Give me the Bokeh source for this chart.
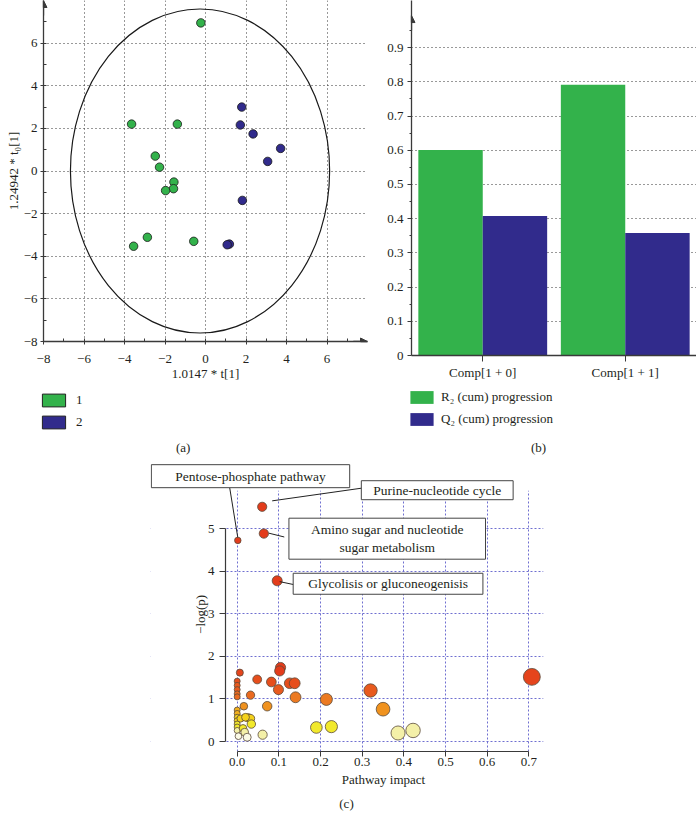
import numpy as np
from bokeh.plotting import figure
from bokeh.models import (Range1d, FixedTicker, Legend, LegendItem, Label, Arrow,
                          NormalHead, ColumnDataSource, LinearColorMapper, BoxAnnotation)
from bokeh.layouts import row, column
from bokeh.transform import dodge, transform
from bokeh.embed import file_html
from bokeh.resources import INLINE

FONT = "Liberation Serif"
TXT = "#231f20"
AX = "#3a3a3a"

# ---------------- (a) score plot data ----------------
group_names = ["1", "2"]
g1_t = [-0.23, -3.65, -1.39, -2.48, -2.27, -1.56, -1.58, -1.97, -2.87, -3.55, -0.58]
g1_to = [6.95, 2.20, 2.20, 0.70, 0.18, -0.52, -0.83, -0.92, -3.11, -3.53, -3.30]
g2_t = [1.79, 1.72, 2.35, 3.71, 3.07, 1.82, 1.18, 1.07]
g2_to = [3.00, 2.16, 1.74, 1.06, 0.45, -1.38, -3.43, -3.46]
ellipse_center = [-0.27, 0.0]
ellipse_axes = [12.8, 15.2]
a_xticks = [-8, -6, -4, -2, 0, 2, 4, 6]
a_yticks = [-8, -6, -4, -2, 0, 2, 4, 6]
a_minor = [-7, -5, -3, -1, 1, 3, 5, 7]

# ---------------- (b) model progression data ----------------
comps = ["Comp[1 + 0]", "Comp[1 + 1]"]
r2_cum = [0.601, 0.792]
q2_cum = [0.408, 0.358]
b_yticks = [0, 0.1, 0.2, 0.3, 0.4, 0.5, 0.6, 0.7, 0.8, 0.9]
b_ylabels = ["0", "0.1", "0.2", "0.3", "0.4", "0.5", "0.6", "0.7", "0.8", "0.9"]
b_series = ["R₂ (cum) progression", "Q₂ (cum) progression"]

# ---------------- (c) pathway impact data ----------------
impact = [0.0015, 0.060, 0.064, 0.096,
          0.0064, 0.0, 0.0, 0.0, 0.0, 0.0,
          0.048, 0.082, 0.104, 0.102, 0.099, 0.126, 0.138, 0.140,
          0.214, 0.320, 0.350, 0.032, 0.016, 0.072,
          0.190, 0.226, 0.386, 0.422, 0.707, 0.061,
          0.0, 0.0, 0.0, 0.0, 0.0, 0.0, 0.0, 0.003,
          0.026, 0.032, 0.034, 0.014, 0.018, 0.024, 0.008, 0.020]
neglogp = [4.73, 5.52, 4.89, 3.78,
           1.62, 1.42, 1.32, 1.22, 1.12, 1.05,
           1.46, 1.40, 1.74, 1.66, 1.22, 1.37, 1.37, 1.04,
           0.99, 1.20, 0.76, 1.09, 0.83, 0.83,
           0.33, 0.35, 0.20, 0.26, 1.52, 0.16,
           0.74, 0.66, 0.57, 0.49, 0.41, 0.34, 0.26, 0.125,
           0.56, 0.54, 0.41, 0.31, 0.22, 0.10, 0.54, 0.57]
c_xticks = [0.0, 0.1, 0.2, 0.3, 0.4, 0.5, 0.6, 0.7]
c_xlabels = ["0.0", "0.1", "0.2", "0.3", "0.4", "0.5", "0.6", "0.7"]
c_yticks = [0, 1, 2, 3, 4, 5]
c_xtitle = "Pathway impact"
c_ytitle = "−log(p)"
pathway_names = ["Pentose-phosphate pathway", "Purine-nucleotide cycle",
                 "Amino sugar and nucleotide\nsugar metabolism",
                 "Glycolisis or gluconeogenisis"]
panel_tags = ["(a)", "(b)", "(c)"]

GREEN = "#33b24b"
BLUE = "#312b8c"
heat = ["#fbfae6", "#f4f0a8", "#f2e92c", "#f4d21c", "#f3b11e", "#f0921e",
        "#ec7a22", "#ea6a20", "#e85a1e", "#e64e1c", "#e5441c"]


def style_axis(ax, size="13px"):
    ax.major_label_text_font = FONT
    ax.major_label_text_font_size = size
    ax.major_label_text_color = TXT
    ax.axis_label_text_font = FONT
    ax.axis_label_text_font_size = "13px"
    ax.axis_label_text_font_style = "normal"
    ax.axis_label_text_color = TXT
    ax.axis_line_color = AX
    ax.major_tick_line_color = AX
    ax.minor_tick_line_color = AX


def base_fig(**kw):
    p = figure(output_backend="svg", toolbar_location=None, **kw)
    p.outline_line_color = None
    p.background_fill_color = "white"
    p.border_fill_color = "white"
    return p


def text_label(p, text, x, y, **kw):
    p.add_layout(Label(x=x, y=y, text=text, text_font=FONT, text_font_size="13px",
                       text_color=TXT, text_align="center", text_baseline="middle", **kw))


# ===================== (a) =====================
pa = base_fig(width=372, height=384, x_range=Range1d(-8, 8), y_range=Range1d(-8, 8),
              min_border_left=43, min_border_right=5, min_border_top=0, min_border_bottom=43)
for ax in (pa.xaxis[0], pa.yaxis[0]):
    style_axis(ax)
    ax.axis_line_width = 1.3
    ax.major_tick_in = 3
    ax.major_tick_out = 3
    ax.minor_tick_in = 3
    ax.minor_tick_out = 0
pa.xaxis.ticker = FixedTicker(ticks=a_xticks, minor_ticks=a_minor)
pa.yaxis.ticker = FixedTicker(ticks=a_yticks, minor_ticks=a_minor)
pa.xaxis.major_label_overrides = {t: str(t).replace("-", "−") for t in a_xticks}
pa.yaxis.major_label_overrides = {t: str(t).replace("-", "−") for t in a_yticks}
pa.xaxis.major_label_standoff = 10
pa.yaxis.major_label_standoff = 3
pa.xaxis.axis_label = "1.0147 * t[1]"
pa.yaxis.axis_label = "1.24942 * t₀[1]"
pa.xaxis.axis_label_standoff = 0
pa.yaxis.axis_label_standoff = 0
pa.xgrid.ticker = FixedTicker(ticks=a_xticks[1:])
pa.ygrid.ticker = FixedTicker(ticks=a_yticks[1:])
for g in (pa.xgrid[0], pa.ygrid[0]):
    g.grid_line_color = "#333333"
    g.grid_line_dash = "1 3"
    g.grid_line_width = 1

pa.ellipse(x=[ellipse_center[0]], y=[ellipse_center[1]], width=[ellipse_axes[0]],
           height=[ellipse_axes[1]], fill_color=None, line_color="#1a1a1a", line_width=1.2)
pa.scatter(g1_t, g1_to, size=8.5, fill_color=GREEN, line_color="#1a1a1a", line_width=0.8)
pa.scatter(g2_t, g2_to, size=8.5, fill_color=BLUE, line_color="#1a1a1a", line_width=0.8)
pa.add_layout(Arrow(end=NormalHead(size=7, fill_color=AX, line_color=AX),
                    x_start=7.3, y_start=-8, x_end=8, y_end=-8, line_color=AX, line_width=1.3))
pa.add_layout(Arrow(end=NormalHead(size=7, fill_color=AX, line_color=AX),
                    x_start=-8, y_start=7.3, x_end=-8, y_end=8, line_color=AX, line_width=1.3))

# ===================== (b) =====================
pb = base_fig(width=324, height=384, x_range=comps, y_range=Range1d(0, 1.038),
              min_border_left=39, min_border_right=0, min_border_top=0, min_border_bottom=29)
srcb = ColumnDataSource(dict(comp=comps, r2=r2_cum, q2=q2_cum))
pb.vbar(x=dodge("comp", -0.226, range=pb.x_range), top="r2", width=0.452, source=srcb,
        fill_color=GREEN, line_color=None)
pb.vbar(x=dodge("comp", 0.226, range=pb.x_range), top="q2", width=0.452, source=srcb,
        fill_color=BLUE, line_color=None)
for ax in (pb.xaxis[0], pb.yaxis[0]):
    style_axis(ax)
    ax.axis_line_width = 1.3
pb.xaxis.major_tick_out = 6
pb.xaxis.major_tick_in = 0
pb.xaxis.minor_tick_out = 0
pb.xaxis.major_label_standoff = 3
pb.yaxis.ticker = FixedTicker(ticks=b_yticks, minor_ticks=[t + 0.05 for t in b_yticks])
pb.yaxis.major_label_overrides = dict(zip(b_yticks, b_ylabels))
pb.yaxis.major_tick_out = 4
pb.yaxis.major_tick_in = 0
pb.yaxis.minor_tick_out = 2
pb.yaxis.minor_tick_in = 0
pb.yaxis.major_label_standoff = 4
pb.xgrid.visible = False
pb.ygrid.ticker = FixedTicker(ticks=b_yticks[1:])
pb.ygrid.grid_line_color = "#333333"
pb.ygrid.grid_line_dash = "1 3"
pb.add_layout(Arrow(end=NormalHead(size=7, fill_color=AX, line_color=AX),
                    x_start=0, y_start=0.95, x_end=0, y_end=0.994, line_color=AX, line_width=1.3))

# ===================== legends strip (1 data unit = 1 px) =====================
ps = base_fig(width=696, height=72, x_range=Range1d(0, 696), y_range=Range1d(0, 72),
              x_axis_type=None, y_axis_type=None,
              min_border_left=0, min_border_right=0, min_border_top=0, min_border_bottom=0)
ps.grid.visible = False


def legend_in_strip(names, colors, loc, standoff, line_color):
    items = []
    for n, c in zip(names, colors):
        r = ps.vbar(x=[np.nan], top=[np.nan], width=1, fill_color=c,
                    line_color=line_color, line_width=1)
        items.append(LegendItem(label=n, renderers=[r]))
    ps.add_layout(Legend(items=items, location=loc, glyph_width=29, glyph_height=16,
                         label_height=16, spacing=6, padding=0, margin=0,
                         label_standoff=standoff, border_line_alpha=0, background_fill_alpha=0,
                         label_text_font=FONT, label_text_font_size="13px",
                         label_text_color=TXT))


legend_in_strip(group_names, [GREEN, BLUE], (39, 26), 8, "#222222")
legend_in_strip(b_series, [GREEN, BLUE], (407, 29), 5, None)
text_label(ps, panel_tags[0], 182.7, 9)
text_label(ps, panel_tags[1], 538, 9)

# ===================== (c) =====================
pc = base_fig(width=696, height=316, x_range=Range1d(-0.208, 0.735), y_range=Range1d(-0.235, 6.703),
              min_border_left=150, min_border_right=153, min_border_top=0, min_border_bottom=21)
for ax in (pc.xaxis[0], pc.yaxis[0]):
    style_axis(ax)
    ax.axis_line_width = 1.2
    ax.major_tick_in = 0
    ax.minor_tick_out = 0
    ax.minor_tick_in = 0
pc.xaxis.ticker = FixedTicker(ticks=c_xticks)
pc.xaxis.major_label_overrides = dict(zip(c_xticks, c_xlabels))
pc.xaxis.bounds = (c_xticks[0], c_xticks[-1])
pc.xaxis.major_tick_out = 5
pc.xaxis.major_label_standoff = 1
pc.yaxis.ticker = FixedTicker(ticks=c_yticks)
pc.yaxis.bounds = (c_yticks[0], c_yticks[-1])
pc.yaxis.fixed_location = -0.028
pc.yaxis.major_tick_out = 6
pc.yaxis.major_label_standoff = 5
pc.xgrid.ticker = FixedTicker(ticks=c_xticks)
pc.ygrid.ticker = FixedTicker(ticks=c_yticks)
for g in (pc.xgrid[0], pc.ygrid[0]):
    g.grid_line_color = "#6f6fd0"
    g.grid_line_dash = "2 2"
    g.grid_line_width = 1
# white masks: the grid only covers the region right of the y axis and below ~5.9
pc.add_layout(BoxAnnotation(bottom=5.9, fill_color="white", fill_alpha=1, line_alpha=0,
                            level="underlay"))
pc.add_layout(BoxAnnotation(right=-0.028, fill_color="white", fill_alpha=1, line_alpha=0,
                            level="underlay"))

mapper = LinearColorMapper(palette=heat, low=0.0, high=1.65, high_color="#e33c1b")
srcc = ColumnDataSource(dict(x=impact, y=neglogp, s=6 + 13 * np.sqrt(np.array(impact))))
pc.scatter("x", "y", size="s", source=srcc, fill_color=transform("y", mapper),
           line_color="#5a4a3a", line_width=0.8)

text_label(pc, c_ytitle, -0.088, 2.99, angle=np.pi / 2)

leaders = [((-0.018, 5.97), (0.0014, 4.80)),
           ((0.300, 5.96), (0.084, 5.66)),
           ((0.076, 4.90), (0.113, 4.81)),
           ((0.102, 3.76), (0.136, 3.69))]
for (x0, y0), (x1, y1) in leaders:
    pc.add_layout(Arrow(end=None, x_start=x0, y_start=y0, x_end=x1, y_end=y1,
                        line_color="#222222", line_width=1))
boxes = [(0.032, 6.24, dict(left=24, right=24, top=4, bottom=4)),
         (0.480, 5.91, dict(left=12, right=12, top=2, bottom=2)),
         (0.360, 4.77, dict(left=22, right=22, top=4, bottom=4)),
         (0.362, 3.71, dict(left=15, right=15, top=3, bottom=3))]
for name, (bx, by, pad) in zip(pathway_names, boxes):
    pc.add_layout(Label(x=bx, y=by, text=name, text_font=FONT, text_font_size="13.5px",
                        text_color=TXT, text_align="center", text_baseline="middle",
                        background_fill_color="white", border_line_color="#444444",
                        border_line_width=1, padding=pad))

# ===================== (c) title strip =====================
pt = base_fig(width=696, height=43, x_range=Range1d(0, 696), y_range=Range1d(0, 43),
              x_axis_type=None, y_axis_type=None,
              min_border_left=0, min_border_right=0, min_border_top=0, min_border_bottom=0)
pt.grid.visible = False
text_label(pt, c_xtitle, 383, 36)
text_label(pt, panel_tags[2], 346, 12)

layout = column(row(column(pa), column(pb)), column(ps), column(pc), column(pt))
open("out.html", "w").write(file_html(layout, INLINE))
